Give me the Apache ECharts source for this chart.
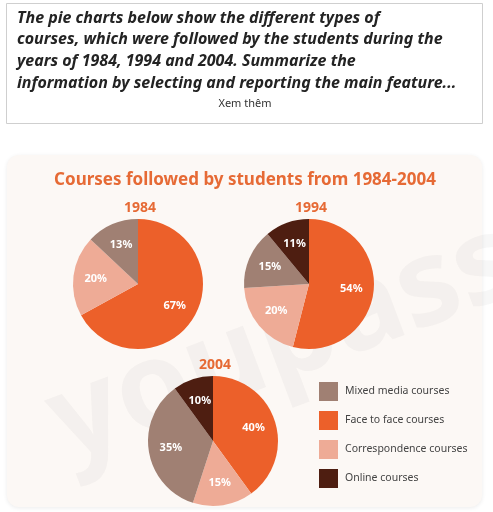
<!DOCTYPE html>
<html><head><meta charset="utf-8">
<script src="https://cdn.jsdelivr.net/npm/echarts@6/dist/echarts.min.js"></script>
<style>html,body{margin:0;padding:0;background:#fff}#c{width:493px;height:512px}</style>
</head><body><div id="c"></div>
<script>
const categories = ['Mixed media courses','Face to face courses','Correspondence courses','Online courses'];
const colors = {'Mixed media courses':'#a08073','Face to face courses':'#ec602a','Correspondence courses':'#eeab96','Online courses':'#4e1e11'};
const years = ['1984','1994','2004'];
// slice order clockwise from 12 o'clock
const order1984 = ['Face to face courses','Correspondence courses','Mixed media courses'];
const values1984 = [67, 20, 13];
const order1994 = ['Face to face courses','Correspondence courses','Mixed media courses','Online courses'];
const values1994 = [54, 20, 15, 11];
const order2004 = ['Face to face courses','Correspondence courses','Mixed media courses','Online courses'];
const values2004 = [40, 15, 35, 10];
const questionLines = [
 'The pie charts below show the different types of',
 'courses, which were followed by the students during the',
 'years of 1984, 1994 and 2004. Summarize the',
 'information by selecting and reporting the main feature...'
];

const chart = echarts.init(document.getElementById('c'));
const pies = [
 {order: order1984, values: values1984, center: [138, 284], year: years[0]},
 {order: order1994, values: values1994, center: [309, 284], year: years[1]},
 {order: order2004, values: values2004, center: [213, 441], year: years[2]}
];
const R = 65;
const series = [];
pies.forEach(p => {
  const data = p.order.map((n,i) => ({name: n, value: p.values[i], itemStyle: {color: colors[n]}}));
  series.push({type:'pie', center:p.center, radius:R, startAngle:90, clockwise:true, silent:true,
    data: data, label:{show:false}, labelLine:{show:false}, itemStyle:{borderWidth:0}, z:3});
  series.push({type:'pie', center:p.center, radius:R*1.22, startAngle:90, clockwise:true, silent:true,
    legendHoverLink:false,
    data: p.order.map((n,i)=>({name:n, value:p.values[i]})),
    itemStyle:{opacity:0}, z:4,
    label:{show:true, position:'inside', formatter:'{c}%', color:'#fff', fontFamily:'"Noto Sans"', fontWeight:'bold', fontSize:11, opacity:1},
    labelLine:{show:false}});
});
const graphics = [
 {type:'rect', shape:{x:6.5,y:3.5,width:476,height:120}, style:{fill:'#fff', stroke:'#cfcfcf', lineWidth:1}, z:0},
 {type:'rect', shape:{x:7,y:155,width:475,height:352,r:12}, style:{fill:'#fcf8f5', shadowBlur:4, shadowColor:'rgba(0,0,0,0.08)', shadowOffsetY:1}, z:0},
 {type:'text', x:245, y:104, style:{text:'Xem thêm', fill:'#333', font:'11px "Noto Sans"', align:'center', verticalAlign:'middle'}, z:1},
 {type:'text', x:55, y:430, rotation:0.36, style:{text:'youpass', fill:'rgba(180,180,180,0.10)', font:'bold 120px "Noto Sans"', verticalAlign:'middle'}, z:1}
];
questionLines.forEach((t,i) => graphics.push({type:'text', x:17, y:18+i*21.8, style:{text:t, fill:'#232323', font:'italic bold 16px "Noto Sans"', verticalAlign:'middle'}, z:1}));
const titles = [
 {text:'Courses followed by students from 1984-2004', left:240, top:167, textAlign:'center', textStyle:{color:'#e66a35', fontFamily:'"Noto Sans"', fontWeight:'bold', fontSize:17}}
];
pies.forEach(p => titles.push({text:p.year, left:p.center[0]-3, top:p.center[1]-88, textAlign:'center', textStyle:{color:'#e66a35', fontFamily:'"Noto Sans"', fontWeight:'bold', fontSize:14}}));
chart.setOption({
  animation:false,
  backgroundColor:'#fff',
  title: titles,
  graphic: graphics,
  legend:{data:categories, orient:'vertical', left:319, top:382, padding:0, itemWidth:19, itemHeight:19, itemGap:10, icon:'rect', selectedMode:false,
    textStyle:{color:'#444', fontFamily:'"Noto Sans"', fontSize:10.5, padding:[0,0,0,2]}},
  series: series
});
</script></body></html>
